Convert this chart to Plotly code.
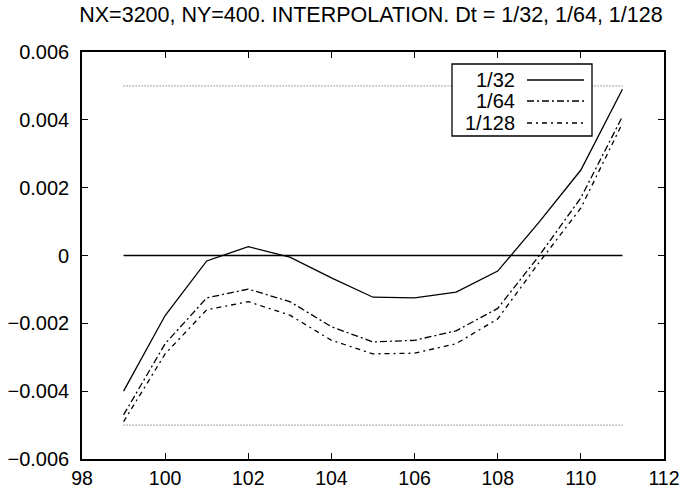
import plotly.graph_objects as go

x_vals = [99, 100, 101, 102, 103, 104, 105, 106, 107, 108, 109, 110, 111]
dt_labels = ["1/32", "1/64", "1/128"]
y_dt32 = [-0.0040, -0.00177, -0.00016, 0.00026, -0.00005, -0.00066, -0.00123,
          -0.00125, -0.00108, -0.00046, 0.00099, 0.00252, 0.0049]
y_dt64 = [-0.0047, -0.0026, -0.00125, -0.00099, -0.00136, -0.0021, -0.00255,
          -0.0025, -0.00222, -0.00156, 0.0000, 0.0017, 0.0041]
y_dt128 = [-0.0049, -0.0029, -0.0016, -0.00136, -0.00176, -0.0025, -0.0029,
           -0.00288, -0.0026, -0.00187, -0.0002, 0.0014, 0.0039]
ref_levels = [0.0, 0.005, -0.005]
x_ticks = [98, 100, 102, 104, 106, 108, 110, 112]
y_ticks = [-0.006, -0.004, -0.002, 0, 0.002, 0.004, 0.006]
y_ticktext = ["\u22120.006", "\u22120.004", "\u22120.002", "0", "0.002", "0.004", "0.006"]

series = [y_dt32, y_dt64, y_dt128]
dashes = ["solid", "7px,3px,2px,3px", "5px,4px,2px,4px"]

fig = go.Figure()

# reference lines
ref_styles = [dict(color="black", width=1.3, dash="solid"),
              dict(color="#444444", width=1, dash="1px,2px"),
              dict(color="#444444", width=1, dash="1px,2px")]
for lvl, st in zip(ref_levels, ref_styles):
    fig.add_trace(go.Scatter(x=[x_vals[0], x_vals[-1]], y=[lvl, lvl], mode="lines",
                             line=st, showlegend=False, hoverinfo="skip"))

for name, ys, d in zip(dt_labels, series, dashes):
    fig.add_trace(go.Scatter(x=x_vals, y=ys, mode="lines", name=name,
                             line=dict(color="black", width=1.3, dash=d),
                             showlegend=False))

# custom legend (text left of sample, as in reference)
W, H = 680, 491
ml, mr, mt, mb = 82, 16, 52, 32
pw, ph = W - ml - mr, H - mt - mb
def px(xp): return (xp - ml) / pw
def py(yp): return (H - mb - yp) / ph

shapes = [dict(type="rect", xref="paper", yref="paper",
               x0=px(452), x1=px(592), y0=py(136), y1=py(64),
               line=dict(color="black", width=1.3), fillcolor="white", layer="above")]
annotations = []
rows = [80, 101, 123]
for name, d, ry in zip(dt_labels, dashes, rows):
    shapes.append(dict(type="line", xref="paper", yref="paper",
                       x0=px(527), x1=px(584), y0=py(ry), y1=py(ry),
                       line=dict(color="black", width=1.3, dash=d), layer="above"))
    annotations.append(dict(text=name, xref="paper", yref="paper", x=px(517), y=py(ry),
                            xanchor="right", yanchor="middle", showarrow=False,
                            font=dict(size=20, color="black")))

fig.update_layout(
    width=W, height=H,
    margin=dict(l=ml, r=mr, t=mt, b=mb),
    paper_bgcolor="white", plot_bgcolor="white",
    font=dict(family="Liberation Sans, Arial, sans-serif", size=20, color="black"),
    title=dict(text="NX=3200, NY=400. INTERPOLATION. Dt = 1/32, 1/64, 1/128",
               x=(ml + pw / 2) / W - 0.003, xanchor="center", y=1 - 14 / H, yanchor="middle",
               font=dict(size=21.5, color="black"), automargin=False),
    shapes=shapes, annotations=annotations,
    showlegend=False,
)
fig.update_xaxes(range=[98, 112], tickvals=x_ticks, ticks="inside", ticklen=6,
                 tickwidth=1.3, tickcolor="black", showline=True, linecolor="black",
                 linewidth=1.6, mirror="allticks", showgrid=False, zeroline=False,
                 tickfont=dict(size=19.5), ticklabelstandoff=1, automargin=False)
fig.update_yaxes(range=[-0.006, 0.006], tickvals=y_ticks, ticktext=y_ticktext,
                 ticks="inside", ticklen=6, tickwidth=1.3, tickcolor="black",
                 showline=True, linecolor="black", linewidth=1.6, mirror="allticks",
                 showgrid=False, zeroline=False, tickfont=dict(size=20),
                 ticklabelstandoff=7, automargin=False)

fig.write_html("out.html")
